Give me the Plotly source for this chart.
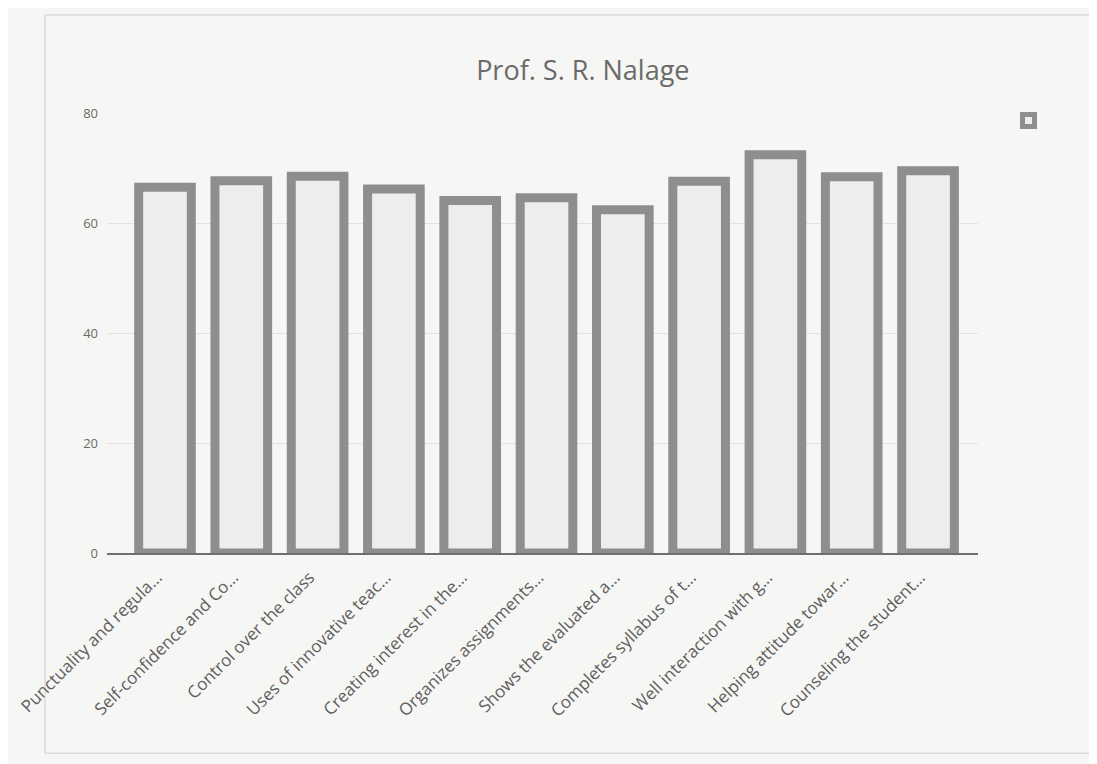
import plotly.graph_objects as go

# Feedback categories (labels truncated as in the source chart)
categories = [
    "Punctuality and regula…",
    "Self-confidence and Co…",
    "Control over the class",
    "Uses of innovative teac…",
    "Creating interest in the…",
    "Organizes assignments…",
    "Shows the evaluated a…",
    "Completes syllabus of t…",
    "Well interaction with g…",
    "Helping attitude towar…",
    "Counseling the student…",
]
scores = [66.5, 67.7, 68.5, 66.2, 64.1, 64.6, 62.4, 67.6, 72.4, 68.4, 69.5]
y_ticks = [0, 20, 40, 60, 80]

fig = go.Figure()
fig.add_trace(go.Bar(
    x=categories,
    y=scores,
    name="",
    width=0.69,
    marker=dict(color="#ededed", line=dict(color="#8e8e8e", width=9)),
    showlegend=True,
))

# faint frame round the chart area, as in the scanned original
fig.add_shape(
    type="rect", xref="paper", yref="paper",
    x0=-0.071, x1=1.134, y0=-0.455, y1=1.223,
    line=dict(color="#dadada", width=1.5), layer="below",
)

# margins allow for the 8px body margin of the html page
fig.update_layout(
    title=dict(text="Prof. S. R. Nalage", x=0.524, xanchor="center", y=0.93,
               font=dict(size=27, color="#6a6a6a", family="Open Sans, sans-serif")),
    width=1097,
    height=764,
    margin=dict(l=99, r=127, t=105, b=219, autoexpand=False),
    paper_bgcolor="#f6f6f4",
    plot_bgcolor="#f6f6f4",
    font=dict(family="Open Sans, sans-serif", color="#6a6a6a"),
    legend=dict(x=1.035, y=1.016, xanchor="left", yanchor="top",
                bgcolor="rgba(0,0,0,0)", font=dict(size=12)),
    xaxis=dict(
        range=[-0.76, 10.655],
        tickangle=-45,
        tickfont=dict(size=17, color="#5e5e5e"),
        showline=True, linecolor="#6e6e6e", linewidth=1.5,
        showgrid=False, ticks="", automargin=False,
        ticklabelshift=-8, ticklabelstandoff=6,
    ),
    yaxis=dict(
        range=[0, 80],
        tickvals=y_ticks,
        tickfont=dict(size=13, color="#6a6a6a"),
        showgrid=True, gridcolor="#e2e2e2", gridwidth=1,
        zeroline=False, showline=False, automargin=False,
        ticklabelstandoff=8,
    ),
)

fig.write_html("out.html")
